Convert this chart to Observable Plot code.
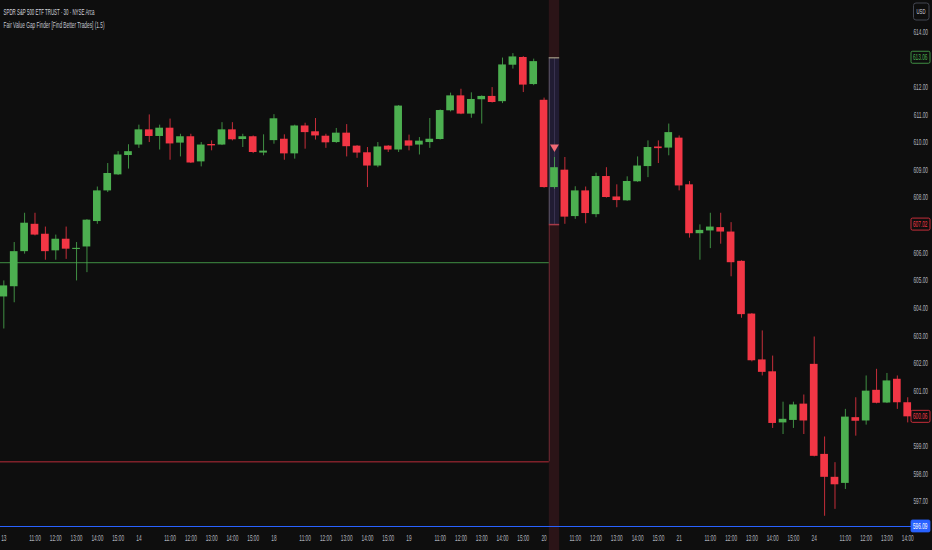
<!DOCTYPE html>
<html>
<head>
<meta charset="utf-8">
<script src="https://cdn.jsdelivr.net/npm/d3@7"></script>
<script src="https://cdn.jsdelivr.net/npm/@observablehq/plot@0.6"></script>
<style>
  html, body { margin: 0; padding: 0; background: #0e0e0e; }
  #chart { width: 932px; height: 550px; overflow: hidden; }
</style>
</head>
<body>
<div id="chart"></div>
<script>
// SPY 30 min bars, Feb 13 - Feb 24
const days = ["13", "14", "18", "19", "20", "21", "24"];
const sessionTimes = ["09:30", "10:00", "10:30", "11:00", "11:30", "12:00", "12:30",
  "13:00", "13:30", "14:00", "14:30", "15:00", "15:30"];
const shownTimes = ["11:00", "12:00", "13:00", "14:00", "15:00"];

const opens = [
  604.40, 604.77, 606.04, 607.03, 606.67, 606.07, 606.49, 606.12, 606.21, 607.13, 608.24, 608.82, 609.52,
  609.90, 610.45, 610.21, 610.51, 609.97, 610.20, 609.29, 609.92, 609.90, 610.45, 610.10, 610.20, 609.61,
  610.06, 610.11, 609.58, 610.59, 610.38, 610.22, 609.99, 610.33, 609.86, 609.62, 609.14, 609.86, 609.72,
  610.05, 609.90, 609.99, 610.10, 611.14, 611.68, 611.02, 611.54, 611.66, 611.47, 612.79, 613.07, 612.09,
  611.52, 608.36, 608.99, 607.31, 608.24, 607.38, 608.76, 608.02, 607.88, 608.57, 609.12, 609.83, 609.79,
  610.15, 608.46, 606.69, 606.79, 606.91, 606.75, 605.69, 603.78, 602.12, 601.69, 599.84, 599.93, 600.52,
  601.96, 598.70, 597.87, 597.65, 600.03, 599.91, 601.02, 600.56, 601.42, 600.57
];
const highs = [
  604.98, 606.37, 607.43, 607.43, 606.93, 606.64, 606.93, 606.37, 607.20, 608.38, 609.23, 609.66, 609.91,
  610.62, 610.99, 610.62, 610.84, 610.29, 610.29, 609.99, 610.05, 610.71, 610.71, 610.29, 610.23, 610.27,
  611.00, 610.27, 610.62, 610.69, 610.86, 610.29, 610.50, 610.64, 609.88, 609.81, 609.99, 609.88, 611.33,
  610.26, 610.17, 610.86, 611.17, 611.78, 611.92, 611.79, 611.68, 611.98, 613.05, 613.21, 613.10, 613.01,
  611.60, 609.45, 609.45, 608.39, 608.38, 608.88, 609.08, 608.46, 608.75, 609.47, 610.05, 610.05, 610.66,
  610.23, 608.58, 607.01, 607.43, 607.43, 607.09, 605.71, 603.80, 603.17, 602.26, 600.59, 600.59, 600.85,
  602.95, 599.33, 598.40, 600.33, 600.75, 601.54, 601.78, 601.63, 601.54, 600.75
];
const lows = [
  603.24, 604.19, 605.95, 606.61, 605.73, 605.73, 605.76, 604.98, 605.28, 607.03, 608.18, 608.80, 609.03,
  609.78, 609.99, 609.72, 609.35, 609.47, 609.23, 609.11, 609.69, 609.88, 610.05, 609.81, 609.59, 609.51,
  609.93, 609.35, 609.39, 609.75, 610.08, 609.78, 609.96, 609.47, 609.42, 608.36, 609.08, 609.63, 609.63,
  609.69, 609.54, 609.78, 610.08, 611.10, 611.00, 610.87, 610.66, 611.42, 611.40, 612.65, 611.80, 612.05,
  608.34, 608.30, 607.03, 607.21, 607.05, 607.27, 607.98, 607.63, 607.86, 608.55, 608.72, 609.23, 609.51,
  608.24, 606.53, 605.73, 606.15, 606.31, 605.13, 603.63, 602.05, 601.54, 599.64, 599.42, 599.64, 599.42,
  598.61, 596.46, 596.71, 597.43, 599.36, 599.76, 600.53, 600.54, 600.33, 599.84
];
const closes = [
  604.80, 606.04, 607.07, 606.64, 606.04, 606.49, 606.13, 606.16, 607.18, 608.24, 608.87, 609.54, 609.66,
  610.45, 610.21, 610.51, 609.94, 610.20, 609.25, 609.90, 609.87, 610.45, 610.09, 610.20, 609.63, 609.68,
  610.85, 609.58, 610.59, 610.35, 610.23, 609.98, 610.33, 609.84, 609.61, 609.14, 609.83, 609.72, 611.31,
  609.86, 610.04, 610.11, 611.15, 611.68, 611.02, 611.55, 611.66, 611.44, 612.80, 613.09, 612.07, 612.92,
  608.36, 609.08, 607.29, 608.24, 607.42, 608.76, 608.00, 607.89, 608.58, 609.14, 609.81, 609.77, 610.35,
  608.42, 606.69, 606.81, 606.93, 606.75, 605.64, 603.76, 602.09, 601.67, 599.82, 599.97, 600.49, 599.91,
  598.63, 597.87, 597.60, 600.05, 599.90, 600.99, 600.55, 601.36, 600.57, 600.06
];

// Fair value gap indicator levels
const fvgBar = 53;
const fvgTop = 613.06;
const fvgBottom = 607.02;
const markerPrice = 609.83;
const rangeHigh = 605.64;
const rangeLow = 598.43;
const lowLine = 596.09;

const priceTicks = [614, 612, 611, 610, 609, 608, 606, 605, 604, 603, 602, 601, 599, 598, 597];
const titleLine1 = "SPDR S&P 500 ETF TRUST · 30 · NYSE Arca";
const titleLine2 = "Fair Value Gap Finder [Find Better Trades] (1.5)";

const up = "#4caf50";
const down = "#f23645";
const bg = "#0e0e0e";
const xDomain = [-0.32, 87.46];
const squeeze = 0.53;

const bars = opens.map((o, i) => ({
  i,
  day: days[Math.floor(i / 13)],
  time: sessionTimes[i % 13],
  o, h: highs[i], l: lows[i], c: closes[i]
}));
const tickBars = bars.filter(b => b.time === "09:30" || shownTimes.includes(b.time));
const tickText = new Map(tickBars.map(b => [b.i, b.time === "09:30" ? b.day : b.time]));
const col = d => d.c >= d.o ? up : down;

const chart = Plot.plot({
  width: 932,
  height: 550,
  marginLeft: 0,
  marginRight: 20,
  marginTop: 0,
  marginBottom: 22,
  style: {background: bg, color: "#b2b5be", fontFamily: "Liberation Sans, Arial, sans-serif", fontSize: "9px"},
  x: {domain: xDomain},
  y: {domain: [596.017, 615.133]},
  color: {type: "identity"},
  marks: [
    // fvg column
    Plot.rect([fvgBar], {x1: d => d - 0.5, x2: d => d + 0.5, fill: "#2b1417", insetBottom: -22}),
    Plot.rect([fvgBar], {x1: d => d - 0.5, x2: d => d + 0.5, y1: fvgBottom, y2: fvgTop, fill: "#211c33"}),
    Plot.ruleX([fvgBar], {y1: fvgBottom, y2: fvgTop, stroke: "#3a3452"}),
    Plot.ruleX([fvgBar - 0.5], {y1: fvgBottom, y2: fvgTop, stroke: "#5c5566"}),
    Plot.ruleX([fvgBar - 0.5], {y1: rangeLow, y2: fvgBottom, stroke: "#6e2a33"}),
    Plot.ruleY([fvgTop], {x1: fvgBar - 0.5, x2: fvgBar + 0.5, stroke: "#8a8070", strokeWidth: 1.5}),
    Plot.ruleY([fvgBottom], {x1: fvgBar - 0.5, x2: fvgBar + 0.5, stroke: "#a63a48", strokeWidth: 1.5}),
    // range levels
    Plot.ruleY([rangeHigh], {x1: xDomain[0], x2: fvgBar - 0.5, stroke: up, strokeOpacity: 0.8}),
    Plot.ruleY([rangeLow], {x1: xDomain[0], x2: fvgBar - 0.5, stroke: down, strokeOpacity: 0.75}),
    Plot.ruleY([lowLine], {stroke: "#2962ff", strokeWidth: 1.2}),
    // candles
    Plot.ruleX(bars, {x: "i", y1: "l", y2: "h", stroke: col, strokeOpacity: 0.8}),
    Plot.rect(bars, {x1: d => d.i - 0.37, x2: d => d.i + 0.37, y1: "o", y2: "c", fill: col}),
    Plot.dot([markerPrice], {x: fvgBar, y: d => d, symbol: "triangle", rotate: 180, r: 3.3, fill: "#f06a75"}),
    // axes
    Plot.axisX({ticks: tickBars.map(b => b.i), tickFormat: i => tickText.get(i), tickSize: 0, tickPadding: 6, label: null, fill: "#b2b5be"}),
    Plot.axisY({anchor: "right", ticks: priceTicks, tickFormat: d => d.toFixed(2), tickSize: 0, tickPadding: 0,
      textAnchor: "end", dx: 15.5, label: null, fill: "#b2b5be"}),
    // legend text
    Plot.text([titleLine1], {frameAnchor: "top-left", text: d => d, dx: 3, dy: 8, fill: "#d1d4dc", textAnchor: "start"}),
    Plot.text([titleLine2], {frameAnchor: "top-left", text: d => d, dx: 3, dy: 21, fill: "#c4c7cf", textAnchor: "start"})
  ]
});

d3.select("#chart").append(() => chart);

// price labels in the right scale
const y = chart.scale("y");
const svg = d3.select(chart);
const lastClose = closes[closes.length - 1];
const tags = [
  {v: fvgTop, stroke: up, fill: bg, color: up},
  {v: fvgBottom, stroke: down, fill: bg, color: down},
  {v: lastClose, stroke: down, fill: bg, color: down},
  {v: lowLine, stroke: "#2962ff", fill: "#2962ff", color: "#ffffff"}
];
const g = svg.append("g").attr("class", "tags").attr("text-anchor", "end");
tags.forEach(t => {
  const yy = y.apply(t.v);
  g.append("rect").attr("x", 911).attr("y", yy - 6).attr("width", 19).attr("height", 12)
    .attr("rx", 1.5).attr("fill", t.fill).attr("stroke", t.stroke).attr("stroke-width", 0.8);
  g.append("text").attr("transform", `translate(927.5,${yy})`).attr("dy", "0.35em")
    .attr("fill", t.color).text(t.v.toFixed(2));
});
g.append("rect").attr("x", 913.5).attr("y", 3).attr("width", 15.5).attr("height", 17)
  .attr("rx", 2.5).attr("fill", bg).attr("stroke", "#434651");
g.append("text").attr("transform", "translate(921,11.5)").attr("dy", "0.35em").attr("text-anchor", "middle")
  .attr("font-size", 8).attr("fill", "#d1d4dc").text("USD");

// narrow glyphs like the reference: scale the price column, compress the rest
const rightTexts = new Set([
  ...chart.querySelectorAll('g[aria-label="y-axis tick label"] text'),
  ...chart.querySelectorAll("g.tags text")
]);
const fixedWidth = new Map([[titleLine1, 91], [titleLine2, 101]]);
chart.querySelectorAll("text").forEach(t => {
  if (rightTexts.has(t)) {
    const x = +t.getAttribute("x") || 0;
    const prev = t.getAttribute("transform") || "";
    t.setAttribute("transform", `${prev} translate(${x},0) scale(${squeeze},1) translate(${-x},0)`);
    return;
  }
  const len = t.getComputedTextLength();
  if (len > 0) {
    const w = fixedWidth.get(t.textContent) || len * squeeze;
    t.setAttribute("textLength", w.toFixed(1));
    t.setAttribute("lengthAdjust", "spacingAndGlyphs");
  }
});
</script>
</body>
</html>
